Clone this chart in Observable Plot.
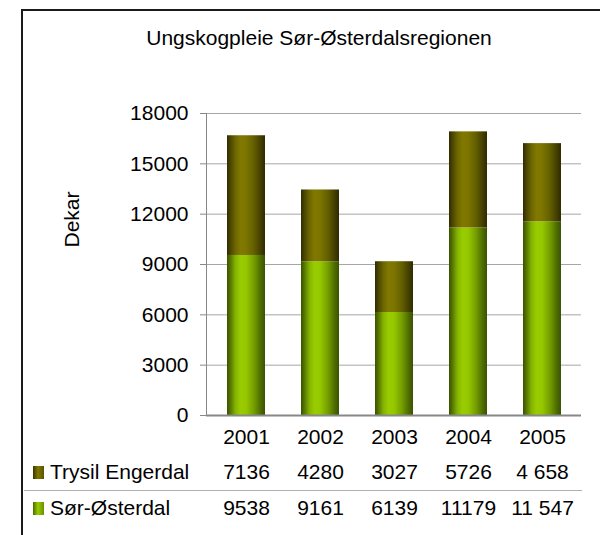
<!DOCTYPE html>
<html>
<head>
<meta charset="utf-8">
<script src="https://cdn.jsdelivr.net/npm/d3@7"></script>
<script src="https://cdn.jsdelivr.net/npm/@observablehq/plot@0.6"></script>
<style>
  body { margin: 0; background: #fff; }
  #wrap { position: relative; width: 600px; height: 535px; overflow: hidden; font-family: "Liberation Sans", Arial, sans-serif; color: #000; }
  #frame { position: absolute; left: 21px; top: 9px; width: 700px; height: 700px; border-top: 2px solid #1a1a1a; border-left: 2px solid #1a1a1a; pointer-events: none; }
  #title { position: absolute; left: 119px; width: 400px; top: 27px; line-height: 22px; text-align: center; font-size: 21px; }
  #sep { position: absolute; left: 24px; top: 490px; width: 558px; height: 1px; background: #b0b0b0; }
  .leg { position: absolute; left: 33px; font-size: 21px; line-height: 22px; display: flex; align-items: center; }
  .sw { width: 11px; height: 13px; margin-right: 6px; display: inline-block; }
  #chart { position: absolute; left: 0; top: 0; }
</style>
</head>
<body>
<div id="wrap">
  <div id="chart"></div>
  <div id="frame"></div>
  <div id="title"></div>
  <div id="sep"></div>
  <div id="leg1" class="leg" style="top:461px"></div>
  <div id="leg2" class="leg" style="top:497px"></div>
</div>
<script>
const title = "Ungskogpleie Sør-Østerdalsregionen";
const yLabel = "Dekar";
const years = ["2001", "2002", "2003", "2004", "2005"];
const seriesNames = ["Trysil Engerdal", "Sør-Østerdal"];
const trysil = [7136, 4280, 3027, 5726, 4658];
const sorOst = [9538, 9161, 6139, 11179, 11547];
const trysilLabels = ["7136", "4280", "3027", "5726", "4 658"];
const sorOstLabels = ["9538", "9161", "6139", "11179", "11 547"];
const yTicks = [0, 3000, 6000, 9000, 12000, 15000, 18000];

const rows = years.map((y, i) => ({
  year: y,
  sor: sorOst[i],
  total: sorOst[i] + trysil[i],
  tLabel: trysilLabels[i],
  sLabel: sorOstLabels[i]
}));

const font = "Liberation Sans, Arial, sans-serif";
const fs = 21;

const plot = Plot.plot({
  width: 600,
  height: 535,
  marginTop: 113,
  marginBottom: 120,
  marginLeft: 206,
  marginRight: 19,
  style: { fontFamily: font, fontSize: fs + "px", background: "transparent", overflow: "visible" },
  x: { domain: years, paddingInner: 0.493, paddingOuter: 0.2467, axis: null },
  y: { domain: [0, 18000], axis: null },
  marks: [
    Plot.gridY(yTicks.filter(d => d > 0), { stroke: "#a6a6a6", strokeOpacity: 1, strokeWidth: 1 }),
    Plot.barY(rows, { x: "year", y1: 0, y2: "sor", fill: "url(#gGreen)" }),
    Plot.barY(rows, { x: "year", y1: "sor", y2: "total", fill: "url(#gBrown)" }),
    Plot.axisY({ ticks: yTicks, tickSize: 6, tickPadding: 12, tickFormat: d => String(d), stroke: "#888", fontSize: fs, label: null, color: "#000" }),
    Plot.frame({ anchor: "left", stroke: "#888" }),
    Plot.ruleY([0], { stroke: "#888", strokeWidth: 2 }),
    Plot.text([yLabel], { text: d => d, frameAnchor: "left", rotate: -90, dx: -134, dy: -17, fontSize: fs, fill: "#000" }),
    Plot.text(rows, { x: "year", text: "year", frameAnchor: "bottom", dy: 22, lineAnchor: "middle", fontSize: fs, fill: "#000" }),
    Plot.text(rows, { x: "year", text: "tLabel", frameAnchor: "bottom", dy: 57, lineAnchor: "middle", fontSize: fs, fill: "#000" }),
    Plot.text(rows, { x: "year", text: "sLabel", frameAnchor: "bottom", dy: 93, lineAnchor: "middle", fontSize: fs, fill: "#000" })
  ]
});

// gradient definitions (cylinder shading)
const ns = "http://www.w3.org/2000/svg";
const defs = document.createElementNS(ns, "defs");
function grad(id, stops) {
  const g = document.createElementNS(ns, "linearGradient");
  g.setAttribute("id", id);
  g.setAttribute("x1", "0"); g.setAttribute("x2", "1");
  g.setAttribute("y1", "0"); g.setAttribute("y2", "0");
  for (const [o, c] of stops) {
    const s = document.createElementNS(ns, "stop");
    s.setAttribute("offset", o);
    s.setAttribute("stop-color", c);
    g.appendChild(s);
  }
  defs.appendChild(g);
}
grad("gGreen", [[0, "#3a5200"], [0.07, "#4f6e00"], [0.22, "#84b200"], [0.35, "#99cc00"], [0.5, "#96c800"], [0.7, "#76a000"], [0.88, "#4f6e00"], [1, "#3a5200"]]);
grad("gBrown", [[0, "#2e2b00"], [0.07, "#454000"], [0.22, "#6c6600"], [0.35, "#807800"], [0.5, "#7d7500"], [0.7, "#646000"], [0.88, "#454000"], [1, "#2e2b00"]]);
plot.insertBefore(defs, plot.firstChild);

document.getElementById("chart").appendChild(plot);
document.getElementById("title").textContent = title;

function legend(el, name, gradCss) {
  const sw = document.createElement("span");
  sw.className = "sw";
  sw.style.background = gradCss;
  const t = document.createElement("span");
  t.textContent = name;
  el.appendChild(sw);
  el.appendChild(t);
}
legend(document.getElementById("leg1"), seriesNames[0], "linear-gradient(to right, #3a3500, #807800 45%, #5a5400)");
legend(document.getElementById("leg2"), seriesNames[1], "linear-gradient(to right, #4a6a00, #99cc00 45%, #6a9000)");
</script>
</body>
</html>
